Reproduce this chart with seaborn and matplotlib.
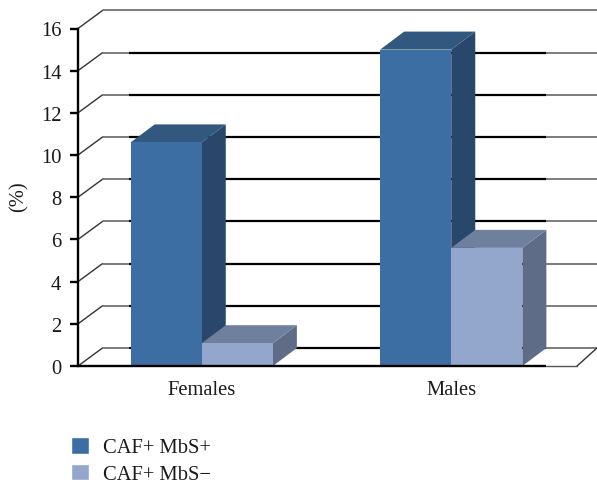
import matplotlib
matplotlib.use("Agg")
import matplotlib.pyplot as plt
import pandas as pd
import seaborn as sns
from matplotlib.patches import Polygon

groups = ["Females", "Males"]
mbs_pos = [10.6, 15.0]
mbs_neg = [1.08, 5.6]
series_names = ["CAF+ MbS+", "CAF+ MbS\u2212"]
y_ticks = list(range(0, 17, 2))

front_colors = ["#3D6EA3", "#93A6CC"]
top_colors = ["#33587F", "#6F809E"]
side_colors = ["#29476B", "#5E6C87"]

W, H = 597, 485
FS = 14.8
sns.set_theme(style="white")
plt.rcParams["font.family"] = ["Liberation Serif", "DejaVu Serif"]
plt.rcParams["text.color"] = "#1a1a1a"

fig = plt.figure(figsize=(W / 100, H / 100), dpi=100)
ax = fig.add_axes([78 / W, 1 - 367 / H, 499 / W, 337.5 / H])

df = pd.DataFrame({
    "group": groups * 2,
    "series": [series_names[0]] * 2 + [series_names[1]] * 2,
    "value": mbs_pos + mbs_neg,
})
sns.barplot(data=df, x="group", y="value", hue="series", palette=front_colors,
            width=0.57, gap=0, saturation=1, ax=ax, zorder=5, legend=True)

x_lo, x_hi = -0.496, 1.504
ax.set_xlim(x_lo, x_hi)
ax.set_ylim(0, 16)

# depth of the 3D box, in data units
dx = 24 / 249.5
dy = 18 / 21.09
wall_dx = 24.5 / 249.5
wall_right = x_hi + 20 / 249.5
heavy_start, heavy_end = -0.292, 1.380

# back wall and the diagonals joining it to the value axis
for v in y_ticks:
    ax.plot([x_lo, x_lo + wall_dx], [v, v + dy], color="#333333", lw=1.0,
            clip_on=False, zorder=1)
    ax.plot([x_lo + wall_dx, wall_right], [v + dy, v + dy], color="#666666",
            lw=1.2, clip_on=False, zorder=1)
    if v < 16:
        ax.plot([heavy_start, heavy_end], [v + dy, v + dy], color="black",
                lw=1.6, clip_on=False, zorder=2, solid_capstyle="butt")
ax.plot([x_hi, wall_right], [0, dy], color="#333333", lw=1.0, clip_on=False, zorder=1)

# floor edge: heavy under the bars, thin towards the right corner
ax.plot([x_lo, heavy_end], [0, 0], color="black", lw=1.7, clip_on=False,
        zorder=7, solid_capstyle="butt")
ax.plot([heavy_end, x_hi], [0, 0], color="#555555", lw=1.0, clip_on=False, zorder=3)

# top and side faces of each bar
n_groups = len(groups)
bars = list(ax.patches)[:2 * n_groups]
for i, bar in enumerate(bars):
    s = i // n_groups
    x0, x1 = bar.get_x(), bar.get_x() + bar.get_width()
    h = bar.get_height()
    z = 4 + (1 - s) * 0.1 + (i % n_groups) * 0.5
    ax.add_patch(Polygon([(x1, 0), (x1 + dx, dy), (x1 + dx, h + dy), (x1, h)],
                         closed=True, fc=side_colors[s], ec="none", zorder=z,
                         clip_on=False))
    ax.add_patch(Polygon([(x0, h), (x0 + dx, h + dy), (x1 + dx, h + dy), (x1, h)],
                         closed=True, fc=top_colors[s], ec="none", zorder=z + 0.2,
                         clip_on=False))
    bar.set_zorder(z + 0.3)
    bar.set_edgecolor("none")

for side in ["top", "right", "bottom"]:
    ax.spines[side].set_visible(False)
ax.spines["left"].set_linewidth(1.7)
ax.spines["left"].set_color("black")
ax.spines["left"].set_zorder(8)

ax.set_yticks(y_ticks)
ax.tick_params(axis="y", left=True, length=6, width=1.7, color="black", pad=6,
               labelsize=FS, labelcolor="#1a1a1a")
ax.tick_params(axis="x", bottom=False, pad=4, labelsize=FS, labelcolor="#1a1a1a")
ax.set_xlabel("")
ax.set_ylabel("")
fig.text(19 / W, 1 - 197 / H, "(%)", rotation=90, ha="center", va="center", fontsize=FS)

handles, labels = ax.get_legend_handles_labels()
ax.legend(handles, labels, loc="upper left", bbox_to_anchor=(70.5 / W, 1 - 438 / H),
          bbox_transform=fig.transFigure, frameon=False, fontsize=FS,
          handlelength=0.88, handleheight=0.88, handletextpad=0.68, labelspacing=0.3,
          borderpad=0, borderaxespad=0)

fig.savefig("out.png", dpi=100)
